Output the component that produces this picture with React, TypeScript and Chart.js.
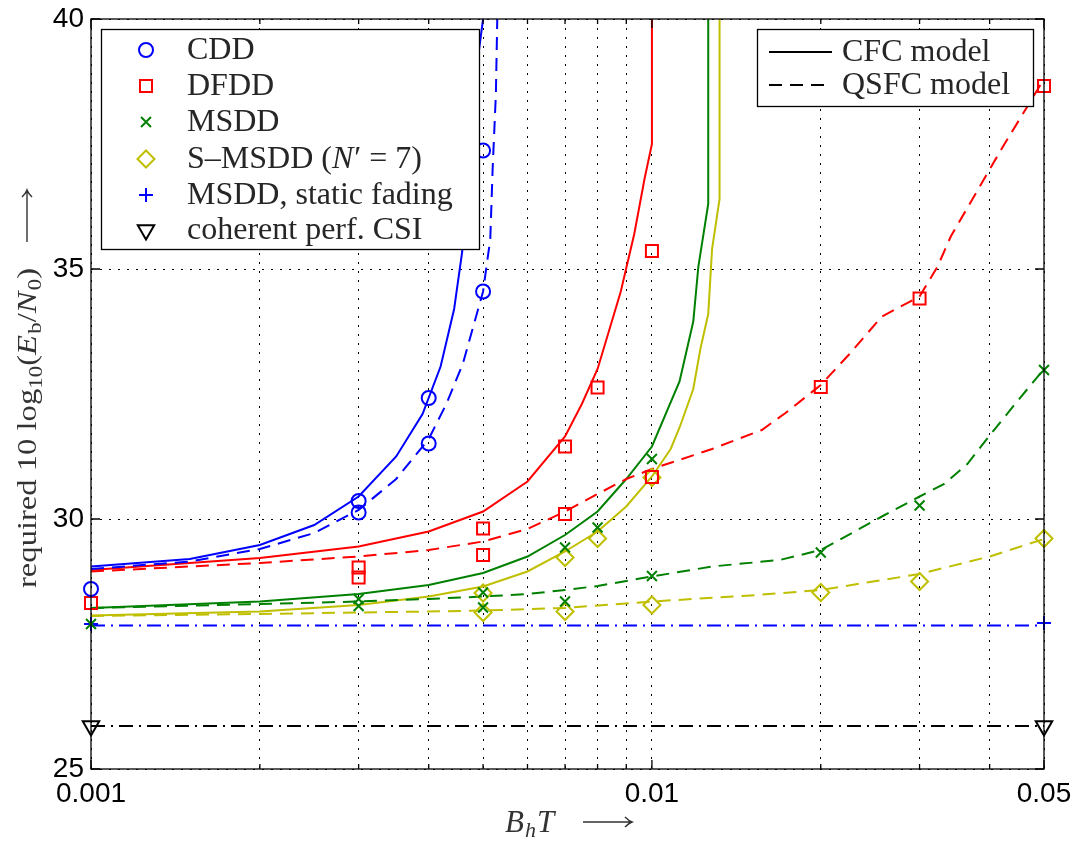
import React, { useEffect, useRef } from 'react';
import { Chart, registerables } from 'chart.js';
import { drawPoint } from 'chart.js/helpers';

Chart.register(...registerables);

type P = [number, number];

// ---------- axes ----------
const X_TICKS = [0.001, 0.002, 0.003, 0.004, 0.005, 0.006, 0.007, 0.008, 0.009, 0.01, 0.02, 0.03, 0.04, 0.05];
const X_LABELED = [0.001, 0.01, 0.05];
const Y_TICKS = [25, 30, 35, 40];

// ---------- simulation markers ----------
const CDD_MARK: P[] = [[0.001, 28.6], [0.003, 30.36], [0.003, 30.13], [0.004, 32.42], [0.004, 31.51], [0.005, 34.55], [0.005, 37.37]];
const DFDD_MARK: P[] = [[0.001, 28.32], [0.003, 29.03], [0.003, 28.83], [0.005, 29.81], [0.005, 29.28], [0.007, 31.45], [0.007, 30.1], [0.008, 32.63], [0.01, 35.36], [0.01, 30.84], [0.02, 32.64], [0.03, 34.41], [0.05, 38.66]];
const MSDD_MARK: P[] = [[0.001, 27.9], [0.003, 28.4], [0.003, 28.26], [0.005, 28.53], [0.005, 28.23], [0.007, 29.43], [0.007, 28.35], [0.008, 29.83], [0.01, 31.2], [0.01, 28.86], [0.02, 29.33], [0.03, 30.27], [0.05, 32.98]];
const SMSDD_MARK: P[] = [[0.005, 28.52], [0.005, 28.13], [0.007, 29.23], [0.007, 28.15], [0.008, 29.61], [0.01, 30.83], [0.01, 28.28], [0.02, 28.53], [0.03, 28.75], [0.05, 29.61]];
const STATIC_MARK: P[] = [[0.001, 27.9], [0.05, 27.92]];
const COH_MARK: P[] = [[0.001, 25.86], [0.05, 25.86]];

// ---------- analytical curves: CFC model (solid) ----------
const CDD_CFC: P[] = [[0.001, 29.05], [0.0015, 29.2], [0.002, 29.48], [0.0025, 29.88], [0.003, 30.45], [0.0035, 31.25], [0.0039, 32.1], [0.0042, 33.05], [0.00444, 34.2], [0.00459, 35.35], [0.00467, 36.4], [0.00484, 38.8], [0.005, 40]];
const DFDD_CFC: P[] = [[0.001, 28.98], [0.002, 29.22], [0.003, 29.45], [0.004, 29.75], [0.005, 30.15], [0.006, 30.75], [0.007, 31.65], [0.0075, 32.3], [0.008, 33.0], [0.0088, 34.55], [0.0093, 35.7], [0.0097, 36.8], [0.01, 37.5], [0.01, 40]];
const MSDD_CFC: P[] = [[0.001, 28.22], [0.002, 28.35], [0.003, 28.5], [0.004, 28.68], [0.005, 28.92], [0.006, 29.25], [0.007, 29.68], [0.008, 30.15], [0.009, 30.8], [0.01, 31.45], [0.0112, 32.75], [0.01185, 33.95], [0.0121, 35.05], [0.0126, 36.3], [0.0126, 40]];
const SMSDD_CFC: P[] = [[0.001, 28.07], [0.002, 28.15], [0.003, 28.28], [0.004, 28.45], [0.005, 28.65], [0.006, 28.95], [0.007, 29.35], [0.008, 29.75], [0.009, 30.25], [0.01, 30.85], [0.0108, 31.4], [0.01122, 31.85], [0.01185, 32.6], [0.0122, 33.4], [0.0126, 34.1], [0.0128, 35.4], [0.0132, 36.4], [0.0132, 40]];

// ---------- analytical curves: QSFC model (dashed) ----------
const CDD_QSFC: P[] = [[0.001, 29.0], [0.0015, 29.15], [0.002, 29.4], [0.0025, 29.72], [0.003, 30.18], [0.0035, 30.8], [0.004, 31.6], [0.0043, 32.3], [0.0046, 33.1], [0.005, 34.55], [0.00515, 35.6], [0.0052, 37.0], [0.00527, 38.5], [0.0053, 40]];
const DFDD_QSFC: P[] = [[0.001, 28.95], [0.002, 29.12], [0.003, 29.25], [0.004, 29.38], [0.005, 29.55], [0.006, 29.8], [0.007, 30.15], [0.008, 30.5], [0.009, 30.8], [0.01, 31.0], [0.0128, 31.4], [0.0157, 31.78], [0.0173, 32.12], [0.02, 32.68], [0.0225, 33.3], [0.0257, 34.05], [0.03, 34.45], [0.0323, 35.05], [0.0341, 35.65], [0.0372, 36.38], [0.042, 37.4], [0.05, 38.8]];
const MSDD_QSFC: P[] = [[0.001, 28.22], [0.002, 28.3], [0.003, 28.35], [0.004, 28.4], [0.005, 28.45], [0.006, 28.5], [0.007, 28.58], [0.008, 28.66], [0.01, 28.85], [0.0128, 29.05], [0.0169, 29.18], [0.02, 29.38], [0.0257, 30.05], [0.03, 30.45], [0.0332, 30.7], [0.0365, 31.1], [0.0402, 31.7], [0.045, 32.38], [0.05, 33.0]];
const SMSDD_QSFC: P[] = [[0.001, 28.06], [0.002, 28.1], [0.003, 28.13], [0.004, 28.15], [0.005, 28.17], [0.007, 28.22], [0.01, 28.35], [0.015, 28.47], [0.02, 28.58], [0.03, 28.9], [0.04, 29.25], [0.05, 29.6]];

// ---------- reference levels ----------
const STATIC_LINE: P[] = [[0.001, 27.87], [0.05, 27.87]];
const COH_LINE: P[] = [[0.001, 25.86], [0.05, 25.86]];

const BLUE = '#0000ff';
const RED = '#ff0000';
const GREEN = '#008000';
const YELLOW = '#bfbf00';
const BLACK = '#000000';

const DASH = [13, 8];
const DASHDOT = [14, 6, 2, 6];

const MK = {
  cdd: { style: 'circle', r: 7, rot: 0, color: BLUE },
  dfdd: { style: 'rect', r: 8.5, rot: 0, color: RED },
  msdd: { style: 'crossRot', r: 7, rot: 0, color: GREEN },
  smsdd: { style: 'rectRot', r: 8.5, rot: 0, color: YELLOW },
  stat: { style: 'cross', r: 7, rot: 0, color: BLUE },
  coh: { style: 'triangle', r: 9.5, rot: 180, color: BLACK },
};

const SERIF = '"Liberation Serif", "Times New Roman", serif';
const SANS = '"Liberation Sans", Arial, sans-serif';

const toXY = (pts: P[]) => pts.map(([x, y]) => ({ x, y }));

const lineDs = (pts: P[], color: string, dash: number[]) => ({
  data: toXY(pts),
  showLine: true,
  borderColor: color,
  borderWidth: 2,
  borderDash: dash,
  pointRadius: 0,
  pointHoverRadius: 0,
  fill: false,
  tension: 0,
  order: 2,
});

const markDs = (pts: P[], m: any) => ({
  data: toXY(pts),
  showLine: false,
  pointStyle: m.style,
  pointRadius: m.r,
  pointHoverRadius: m.r,
  pointRotation: m.rot,
  pointBorderColor: m.color,
  pointBackgroundColor: 'rgba(0,0,0,0)',
  pointBorderWidth: 2,
  clip: false,
  order: 1,
});

type Run = { t: string; f: string; dy?: number; gap?: number };

function runsWidth(ctx: CanvasRenderingContext2D, runs: Run[]) {
  let w = 0;
  for (const r of runs) {
    ctx.font = r.f;
    w += ctx.measureText(r.t).width + (r.gap || 0);
  }
  return w;
}

function drawRuns(ctx: CanvasRenderingContext2D, runs: Run[], x: number, y: number) {
  let cx = x;
  for (const r of runs) {
    ctx.font = r.f;
    ctx.fillText(r.t, cx, y + (r.dy || 0));
    cx += ctx.measureText(r.t).width + (r.gap || 0);
  }
  return cx;
}

function drawArrow(ctx: CanvasRenderingContext2D, x0: number, y: number, len: number) {
  ctx.save();
  ctx.lineWidth = 1.4;
  ctx.beginPath();
  ctx.moveTo(x0, y);
  ctx.lineTo(x0 + len, y);
  ctx.moveTo(x0 + len - 7, y - 5);
  ctx.quadraticCurveTo(x0 + len - 3, y - 1, x0 + len, y);
  ctx.quadraticCurveTo(x0 + len - 3, y + 1, x0 + len - 7, y + 5);
  ctx.stroke();
  ctx.restore();
}

const framePlugin = {
  id: 'frameAndLegends',
  afterDraw(chart: any) {
    const ctx: CanvasRenderingContext2D = chart.ctx;
    const { left, right, top, bottom } = chart.chartArea;
    const xs = chart.scales.x;
    const ys = chart.scales.y;
    ctx.save();
    // frame
    ctx.strokeStyle = '#000';
    ctx.lineWidth = 1.3;
    ctx.setLineDash([]);
    ctx.strokeRect(left, top, right - left, bottom - top);
    ctx.beginPath();
    for (const v of X_TICKS) {
      const px = xs.getPixelForValue(v);
      const len = X_LABELED.includes(v) ? 9 : 5;
      ctx.moveTo(px, bottom);
      ctx.lineTo(px, bottom - len);
      ctx.moveTo(px, top);
      ctx.lineTo(px, top + len);
    }
    for (const v of Y_TICKS) {
      const py = ys.getPixelForValue(v);
      ctx.moveTo(left, py);
      ctx.lineTo(left + 9, py);
      ctx.moveTo(right, py);
      ctx.lineTo(right - 9, py);
    }
    ctx.stroke();

    // legend 1
    const f = `32px ${SERIF}`;
    const fi = `italic 32px ${SERIF}`;
    ctx.fillStyle = '#fff';
    ctx.fillRect(101, 29, 379, 221);
    ctx.strokeStyle = '#000';
    ctx.lineWidth = 1.3;
    ctx.strokeRect(101.5, 29.5, 378, 220);
    const entries: { m: any; runs: Run[] }[] = [
      { m: MK.cdd, runs: [{ t: 'CDD', f }] },
      { m: MK.dfdd, runs: [{ t: 'DFDD', f }] },
      { m: MK.msdd, runs: [{ t: 'MSDD', f }] },
      { m: MK.smsdd, runs: [{ t: 'S\u2013MSDD (', f }, { t: 'N', f: fi, gap: 1 }, { t: '\u2032', f }, { t: ' = 7)', f }] },
      { m: MK.stat, runs: [{ t: 'MSDD, static fading', f }] },
      { m: MK.coh, runs: [{ t: 'coherent perf. CSI', f }] },
    ];
    const rowsY = [50, 86, 122, 159, 195, 230];
    entries.forEach((e, i) => {
      const y = rowsY[i];
      ctx.strokeStyle = e.m.color;
      ctx.fillStyle = 'rgba(0,0,0,0)';
      ctx.lineWidth = 2;
      drawPoint(ctx, { pointStyle: e.m.style, radius: e.m.r, rotation: e.m.rot, borderWidth: 2 } as any, 146, y);
      ctx.fillStyle = '#262626';
      ctx.textBaseline = 'middle';
      ctx.textAlign = 'left';
      drawRuns(ctx, e.runs, 187, y + 1);
    });

    // legend 2
    ctx.fillStyle = '#fff';
    ctx.fillRect(757, 29, 277, 78);
    ctx.strokeStyle = '#000';
    ctx.lineWidth = 1.3;
    ctx.strokeRect(757.5, 29.5, 276, 77);
    const l2 = [
      { dash: [] as number[], t: 'CFC model', y: 52 },
      { dash: DASH, t: 'QSFC model', y: 85 },
    ];
    for (const e of l2) {
      ctx.strokeStyle = '#000';
      ctx.lineWidth = 2;
      ctx.setLineDash(e.dash);
      ctx.beginPath();
      ctx.moveTo(769, e.y);
      ctx.lineTo(832, e.y);
      ctx.stroke();
      ctx.setLineDash([]);
      ctx.fillStyle = '#262626';
      ctx.font = f;
      ctx.textBaseline = 'middle';
      ctx.fillText(e.t, 842, e.y + 1);
    }

    // x-axis title
    ctx.fillStyle = '#333';
    ctx.strokeStyle = '#333';
    ctx.textBaseline = 'alphabetic';
    const xt: Run[] = [
      { t: 'B', f: `italic 31px ${SERIF}`, gap: 1 },
      { t: 'h', f: `italic 22px ${SERIF}`, dy: 5, gap: 1 },
      { t: 'T', f: `italic 31px ${SERIF}` },
    ];
    drawRuns(ctx, xt, 505, 832);
    drawArrow(ctx, 583, 822, 49);

    // y-axis title (rotated)
    const yt: Run[] = [
      { t: 'required 10 log', f: `27px ${SERIF}` },
      { t: '10', f: `19px ${SERIF}`, dy: 6 },
      { t: '(', f: `27px ${SERIF}` },
      { t: 'E', f: `italic 27px ${SERIF}`, gap: 1 },
      { t: 'b', f: `19px ${SERIF}`, dy: 5 },
      { t: '/', f: `27px ${SERIF}` },
      { t: 'N', f: `italic 27px ${SERIF}`, gap: 1 },
      { t: '0', f: `19px ${SERIF}`, dy: 5 },
      { t: ')', f: `27px ${SERIF}` },
    ];
    ctx.save();
    ctx.translate(36, 428);
    ctx.rotate(-Math.PI / 2);
    const w = runsWidth(ctx, yt);
    const target = 320;
    ctx.scale(target / w, 1);
    drawRuns(ctx, yt, -w / 2, 0);
    ctx.restore();
    ctx.save();
    ctx.translate(27, 216);
    ctx.rotate(-Math.PI / 2);
    drawArrow(ctx, -26, 0, 52);
    ctx.restore();

    ctx.restore();
  },
};

export default function App() {
  const ref = useRef<HTMLCanvasElement | null>(null);
  useEffect(() => {
    if (!ref.current) return;
    const grid = { color: '#000', lineWidth: 1, drawTicks: false, borderDash: [2, 7] };
    const border = { display: false, dash: [2, 7] };
    const chart = new Chart(ref.current, {
      type: 'scatter',
      data: {
        datasets: [
          markDs(CDD_MARK, MK.cdd),
          markDs(DFDD_MARK, MK.dfdd),
          markDs(MSDD_MARK, MK.msdd),
          markDs(SMSDD_MARK, MK.smsdd),
          markDs(STATIC_MARK, MK.stat),
          markDs(COH_MARK, MK.coh),
          lineDs(CDD_CFC, BLUE, []),
          lineDs(CDD_QSFC, BLUE, DASH),
          lineDs(DFDD_CFC, RED, []),
          lineDs(DFDD_QSFC, RED, DASH),
          lineDs(MSDD_CFC, GREEN, []),
          lineDs(MSDD_QSFC, GREEN, DASH),
          lineDs(SMSDD_CFC, YELLOW, []),
          lineDs(SMSDD_QSFC, YELLOW, DASH),
          lineDs(STATIC_LINE, BLUE, DASHDOT),
          lineDs(COH_LINE, BLACK, DASHDOT),
        ] as any,
      },
      options: {
        responsive: false,
        maintainAspectRatio: false,
        animation: false,
        events: [],
        layout: { padding: { left: 0, right: 33, top: 19, bottom: 0 } },
        plugins: { legend: { display: false }, tooltip: { enabled: false } },
        scales: {
          x: {
            type: 'logarithmic',
            min: 0.001,
            max: 0.05,
            afterBuildTicks: (s: any) => {
              s.ticks = X_TICKS.map((v) => ({ value: v }));
            },
            afterFit: (s: any) => {
              s.height = 72;
              s.paddingLeft = 0;
              s.paddingRight = 0;
              s.paddingTop = 0;
              s.paddingBottom = 0;
            },
            ticks: {
              autoSkip: false,
              maxRotation: 0,
              minRotation: 0,
              padding: 8,
              color: '#000',
              font: { family: SANS, size: 28 },
              callback: (v: any) => (X_LABELED.includes(Number(v)) ? String(v) : ''),
            },
            grid,
            border,
          },
          y: {
            type: 'linear',
            min: 25,
            max: 40,
            afterBuildTicks: (s: any) => {
              s.ticks = Y_TICKS.map((v) => ({ value: v }));
            },
            afterFit: (s: any) => {
              s.width = 91;
              s.paddingLeft = 0;
              s.paddingRight = 0;
              s.paddingTop = 0;
              s.paddingBottom = 0;
            },
            ticks: {
              padding: 7,
              color: '#000',
              font: { family: SANS, size: 28 },
              callback: (v: any) => String(v),
            },
            grid,
            border,
          },
        } as any,
      },
      plugins: [framePlugin],
    });
    return () => chart.destroy();
  }, []);
  return (
    <div style={{ position: 'fixed', left: 0, top: 0, width: 1077, height: 841, background: '#fff' }}>
      <canvas ref={ref} width={1077} height={841} style={{ display: 'block', width: 1077, height: 841 }} />
    </div>
  );
}
